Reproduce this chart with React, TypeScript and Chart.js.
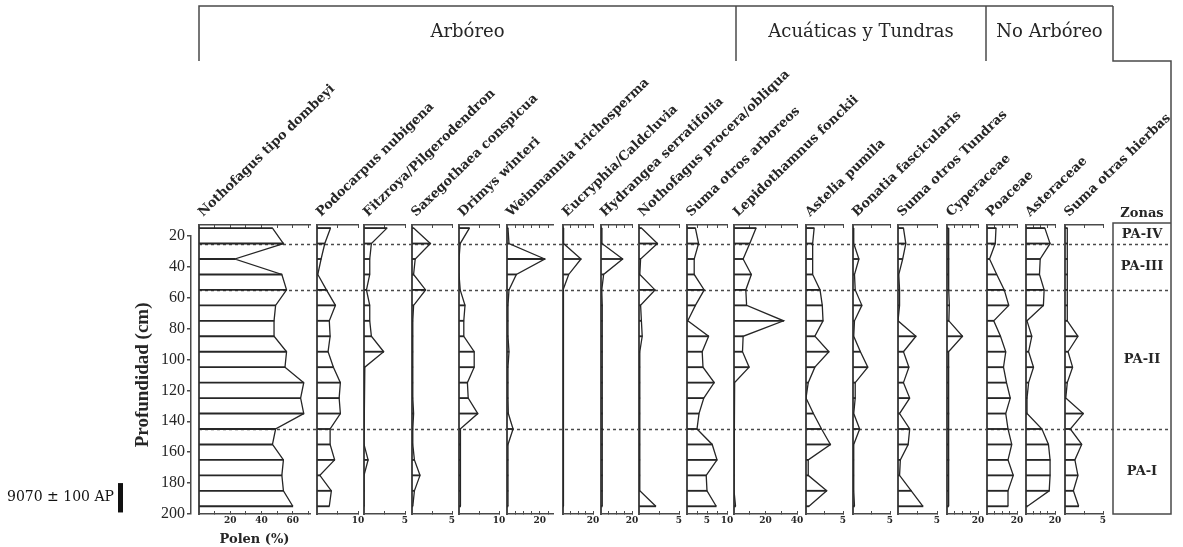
import React, { useEffect, useRef } from 'react';
import { Chart, registerables } from 'chart.js';

Chart.register(...registerables);

// ---------------- DATA ----------------
const SAMPLE_DEPTHS = [15, 25, 35, 45, 55, 65, 75, 85, 95, 105, 115, 125, 135, 145, 155, 165, 175, 185, 195];

const NOTHOFAGUS_DOMBEYI = [47, 54, 23, 53, 56, 49, 48, 48, 56, 55, 67, 65, 67, 49, 47, 54, 53, 54, 60];
const PODOCARPUS_NUBIGENA = [3.3, 1.9, 1.0, 0.2, 2.3, 4.5, 3.0, 3.2, 2.7, 4.0, 5.7, 5.4, 5.7, 3.2, 3.2, 4.3, 0.7, 3.5, 3.0];
const FITZROYA_PILGERODENDRON = [2.8, 0.9, 0.7, 0.7, 0.3, 0.7, 0.7, 0.9, 2.4, 0.1, 0, 0, 0, 0, 0, 0.5, 0, 0, 0];
const SAXEGOTHAEA_CONSPICUA = [0.2, 2.3, 0.4, 0.2, 1.7, 0.2, 0.1, 0.1, 0.1, 0.1, 0.1, 0.1, 0.2, 0.1, 0.1, 0.3, 1.0, 0.3, 0.1];
const DRIMYS_WINTERI = [2.6, 0.3, 0, 0, 0.3, 1.5, 1.2, 1.2, 3.8, 3.8, 2.1, 2.3, 4.7, 0.3, 0.4, 0.3, 0.4, 0.3, 0.4];
const WEINMANNIA_TRICHOSPERMA = [0.6, 1.2, 23, 5.7, 1.2, 0.6, 0.6, 0.6, 1.2, 0.6, 0.6, 0.6, 0.8, 3.7, 0.6, 0.6, 0.6, 0.6, 0.6];
const EUCRYPHIA_CALDCLUVIA = [0.4, 0.4, 12, 3.8, 0, 0.3, 0.3, 0.3, 0.3, 0.3, 0.3, 0.3, 0.3, 0.3, 0.3, 0.3, 0.3, 0.3, 0.3];
const HYDRANGEA_SERRATIFOLIA = [0.5, 0.6, 14, 1.7, 0.5, 0.8, 0.8, 0.8, 0.8, 0.8, 0.8, 0.8, 0.8, 0.8, 0.8, 0.8, 0.8, 0.8, 0.8];
const NOTHOFAGUS_PROCERA_OBLIQUA = [0.3, 2.3, 0.2, 0.1, 2.0, 0.2, 0.3, 0.4, 0.1, 0.1, 0.1, 0.1, 0.1, 0.1, 0.1, 0.1, 0.1, 0.1, 2.1];
const SUMA_OTROS_ARBOREOS = [2.1, 2.9, 1.8, 1.8, 4.3, 2.1, 0.2, 5.4, 3.8, 4.0, 6.8, 4.2, 3.0, 2.5, 6.3, 7.5, 4.8, 5.0, 7.3];
const LEPIDOTHAMNUS_FONCKII = [14, 10, 5.8, 11, 7.5, 8, 31.5, 5.8, 5.4, 9.6, 0.4, 0, 0, 0, 0, 0, 0, 0, 1];
const ASTELIA_PUMILA = [1.1, 0.9, 0.9, 0.9, 1.9, 2.2, 2.3, 1.2, 3.1, 1.2, 0.3, 0, 1.0, 2.1, 3.3, 0.3, 0.3, 2.8, 0.4];
const BONATIA_FASCICULARIS = [0, 0.1, 0.8, 0.2, 0.3, 1.2, 0.2, 0.1, 1.0, 2.0, 0.3, 0.3, 0.1, 0.9, 0.1, 0.1, 0.1, 0.1, 0.2];
const SUMA_OTROS_TUNDRAS = [0.7, 1.0, 0.6, 0.1, 0.2, 0.2, 0, 2.3, 0.7, 1.4, 0.7, 1.5, 0.2, 1.5, 1.3, 0.3, 0.2, 1.7, 3.2];
const CYPERACEAE = [0.8, 1, 1.2, 1, 1.2, 1.5, 1.2, 10, 1, 1.2, 1, 1, 1.2, 1, 1, 1.2, 1, 1, 1];
const POACEAE = [6, 5.5, 1.7, 6.5, 11.5, 14.5, 4.5, 9, 12.5, 11, 13, 15.5, 12.5, 14, 16.5, 14, 17.5, 14, 14];
const ASTERACEAE = [13, 16.6, 9.8, 9.3, 12.5, 12, 0.7, 4, 1.8, 5.2, 1.8, 0.7, 0.7, 11, 15.5, 16.6, 16.6, 16, 1];
const SUMA_OTRAS_HIERBAS = [0.3, 0.3, 0.3, 0.3, 0.3, 0.3, 0.3, 1.7, 0.4, 1, 0.3, 0.1, 2.4, 0.7, 2.2, 1.3, 1.7, 1.1, 1.8];

const TAXA = [
  'Nothofagus tipo dombeyi',
  'Podocarpus nubigena',
  'Fitzroya/Pilgerodendron',
  'Saxegothaea conspicua',
  'Drimys winteri',
  'Weinmannia trichosperma',
  'Eucryphia/Caldcluvia',
  'Hydrangea serratifolia',
  'Nothofagus procera/obliqua',
  'Suma otros arboreos',
  'Lepidothamnus fonckii',
  'Astelia pumila',
  'Bonatia fascicularis',
  'Suma otros Tundras',
  'Cyperaceae',
  'Poaceae',
  'Asteraceae',
  'Suma otras hierbas',
];
const TAXON_VALUES = [
  NOTHOFAGUS_DOMBEYI, PODOCARPUS_NUBIGENA, FITZROYA_PILGERODENDRON, SAXEGOTHAEA_CONSPICUA,
  DRIMYS_WINTERI, WEINMANNIA_TRICHOSPERMA, EUCRYPHIA_CALDCLUVIA, HYDRANGEA_SERRATIFOLIA,
  NOTHOFAGUS_PROCERA_OBLIQUA, SUMA_OTROS_ARBOREOS, LEPIDOTHAMNUS_FONCKII, ASTELIA_PUMILA,
  BONATIA_FASCICULARIS, SUMA_OTROS_TUNDRAS, CYPERACEAE, POACEAE, ASTERACEAE, SUMA_OTRAS_HIERBAS,
];
const AXIS_MAX = [71, 10, 5, 5, 10, 28, 20, 20, 5, 10, 40, 5, 5, 5, 20, 20, 20, 5];
const AXIS_STEP = [10, 5, 2.5, 2.5, 5, 5, 5, 5, 2.5, 2.5, 10, 2.5, 2.5, 2.5, 5, 5, 5, 2.5];
const AXIS_LABELS = [[20, 40, 60], [10], [5], [5], [10], [20], [20], [20], [5], [5, 10], [20, 40], [5], [5], [5], [20], [20], [20], [5]];

const GROUP_NAMES = ['Arbóreo', 'Acuáticas y Tundras', 'No Arbóreo'];
const ZONE_NAMES = ['PA-IV', 'PA-III', 'PA-II', 'PA-I'];
const ZONE_LIMITS = [13, 25, 55, 145, 200];
const DEPTH_TICKS = [20, 40, 60, 80, 100, 120, 140, 160, 180, 200];
const DEPTH_MIN = 13;
const DEPTH_MAX = 200;
const DATE_LABEL = '9070 ± 100 AP';
const DATE_RANGE = [180, 199];

// ---------------- LAYOUT ----------------
const W = 1183;
const H = 547;
const PANEL_LEFT = [199, 317, 364, 412, 459, 507, 563, 601, 639, 687, 734, 806, 853, 898, 947, 987, 1026, 1065];
const PANEL_RIGHT = [310, 358, 405, 452, 499, 553, 593, 632, 679, 727, 797, 843, 890, 937, 978, 1017, 1055, 1103];
const GROUP_EDGES = [199, 736, 986, 1113];
const HEADER_TOP = 6;
const HEADER_BOTTOM = 61;
const ZONE_BOX_LEFT = 1113;
const ZONE_BOX_RIGHT = 1171;
const AREA_TOP = 225;
const AREA_BOTTOM = 514;
const PANEL_CANVAS_TOP = 200;
const PAD = 14;
// the depth axis starts at its first tick
const DEPTH_AXIS_TOP = AREA_TOP + ((DEPTH_TICKS[0] - DEPTH_MIN) * (AREA_BOTTOM - AREA_TOP)) / (DEPTH_MAX - DEPTH_MIN);

const INK = '#262626';
const LINE = '#4a4a4a';

function panelTicks(i: number) {
  const out: { value: number }[] = [];
  for (let v = 0; v <= AXIS_MAX[i] + 1e-6; v += AXIS_STEP[i]) out.push({ value: Math.round(v * 100) / 100 });
  return out;
}

export default function App() {
  const bgRef = useRef<HTMLCanvasElement | null>(null);
  const panelRefs = useRef<(HTMLCanvasElement | null)[]>([]);

  useEffect(() => {
    const charts: Chart[] = [];

    const backgroundPlugin = {
      id: 'pollenFrame',
      afterDraw(chart: any) {
        const ctx = chart.ctx as CanvasRenderingContext2D;
        const ys = chart.scales.y;
        ctx.save();
        // zone boundaries
        ctx.strokeStyle = LINE;
        ctx.lineWidth = 1.5;
        ctx.setLineDash([3, 3]);
        ZONE_LIMITS.slice(1, -1).forEach((d) => {
          const y = Math.round(ys.getPixelForValue(d)) + 0.5;
          ctx.beginPath();
          ctx.moveTo(PANEL_LEFT[0], y);
          ctx.lineTo(ZONE_BOX_RIGHT, y);
          ctx.stroke();
        });
        ctx.setLineDash([]);

        // header boxes
        ctx.strokeStyle = LINE;
        ctx.lineWidth = 1.5;
        ctx.beginPath();
        ctx.moveTo(GROUP_EDGES[0], HEADER_BOTTOM);
        ctx.lineTo(GROUP_EDGES[0], HEADER_TOP);
        ctx.lineTo(GROUP_EDGES[GROUP_EDGES.length - 1], HEADER_TOP);
        ctx.stroke();
        GROUP_EDGES.slice(1, -1).forEach((x) => {
          ctx.beginPath();
          ctx.moveTo(x, HEADER_TOP);
          ctx.lineTo(x, HEADER_BOTTOM);
          ctx.stroke();
        });
        const yTop = ys.getPixelForValue(DEPTH_MIN);
        const yBot = ys.getPixelForValue(DEPTH_MAX);
        ctx.beginPath();
        ctx.moveTo(GROUP_EDGES[GROUP_EDGES.length - 1], HEADER_TOP);
        ctx.lineTo(GROUP_EDGES[GROUP_EDGES.length - 1], HEADER_BOTTOM);
        ctx.lineTo(ZONE_BOX_RIGHT, HEADER_BOTTOM);
        ctx.lineTo(ZONE_BOX_RIGHT, yBot);
        ctx.lineTo(ZONE_BOX_LEFT, yBot);
        ctx.lineTo(ZONE_BOX_LEFT, yTop - 2);
        ctx.lineTo(ZONE_BOX_RIGHT, yTop - 2);
        ctx.stroke();

        ctx.fillStyle = INK;
        ctx.textAlign = 'center';
        ctx.textBaseline = 'middle';
        ctx.font = '18px "DejaVu Serif"';
        GROUP_NAMES.forEach((g, i) => {
          ctx.fillText(g, (GROUP_EDGES[i] + GROUP_EDGES[i + 1]) / 2, 32);
        });

        // taxon labels
        ctx.font = 'bold 13px "DejaVu Serif"';
        ctx.textAlign = 'left';
        ctx.textBaseline = 'alphabetic';
        TAXA.forEach((t, i) => {
          ctx.save();
          ctx.translate(PANEL_LEFT[i] + 4, AREA_TOP - 8);
          ctx.rotate((-44 * Math.PI) / 180);
          ctx.fillText(t, 0, 0);
          ctx.restore();
        });

        // zones column
        const zx = (ZONE_BOX_LEFT + ZONE_BOX_RIGHT) / 2;
        ctx.textAlign = 'center';
        ctx.textBaseline = 'middle';
        ctx.font = 'bold 13px "DejaVu Serif"';
        ctx.fillText('Zonas', zx, yTop - 11);
        ZONE_NAMES.forEach((z, i) => {
          const y = ys.getPixelForValue((ZONE_LIMITS[i] + ZONE_LIMITS[i + 1]) / 2);
          ctx.fillText(z, zx, y);
        });

        // radiocarbon date
        const d0 = ys.getPixelForValue(DATE_RANGE[0]);
        const d1 = ys.getPixelForValue(DATE_RANGE[1]);
        ctx.fillStyle = '#111';
        ctx.fillRect(118, d0, 5, d1 - d0);
        ctx.textAlign = 'right';
        ctx.font = '14px "DejaVu Serif"';
        ctx.fillText(DATE_LABEL, 114, (d0 + d1) / 2);
        ctx.restore();
      },
    };

    if (bgRef.current) {
      charts.push(
        new Chart(bgRef.current, {
          type: 'scatter',
          data: { datasets: [] },
          options: {
            responsive: false,
            animation: false,
            devicePixelRatio: 1,
            events: [],
            layout: { padding: { left: 120, right: W - ZONE_BOX_RIGHT, top: DEPTH_AXIS_TOP, bottom: H - AREA_BOTTOM } },
            plugins: { legend: { display: false }, tooltip: { enabled: false } },
            scales: {
              x: { type: 'linear', display: false, min: 0, max: 1 },
              y: {
                type: 'linear',
                position: 'left',
                min: DEPTH_TICKS[0],
                max: DEPTH_MAX,
                reverse: true,
                afterFit: (s: any) => { s.width = 71; },
                afterBuildTicks: (s: any) => { s.ticks = DEPTH_TICKS.map((v) => ({ value: v })); },
                ticks: { color: INK, font: { family: '"Liberation Serif"', size: 16 }, padding: 2 },
                grid: { drawOnChartArea: false, tickLength: 4, color: LINE, lineWidth: 1.5 },
                border: { display: true, color: LINE, width: 1.5 },
                title: {
                  display: true,
                  text: 'Profundidad (cm)',
                  color: INK,
                  font: { family: '"Liberation Serif"', size: 19, weight: 'bold' },
                  padding: { top: 12, bottom: 0 },
                },
              },
            },
          },
          plugins: [backgroundPlugin],
        } as any)
      );
    }

    TAXA.forEach((_, i) => {
      const canvas = panelRefs.current[i];
      if (!canvas) return;
      const pts = SAMPLE_DEPTHS.map((d, k) => ({ x: TAXON_VALUES[i][k], y: d }));
      const ticksFor = (s: any) => { s.ticks = panelTicks(i); };
      charts.push(
        new Chart(canvas, {
          type: 'bar',
          data: {
            datasets: [
              { type: 'bar', data: pts, backgroundColor: INK, barThickness: 1.2, borderWidth: 0, xAxisID: 'x', yAxisID: 'y' },
              { type: 'line', data: pts, borderColor: INK, borderWidth: 1.3, pointRadius: 0, fill: false, tension: 0, xAxisID: 'x', yAxisID: 'y' },
            ],
          },
          options: {
            indexAxis: 'y',
            responsive: false,
            animation: false,
            devicePixelRatio: 1,
            events: [],
            layout: { padding: { left: PAD, right: PAD, top: AREA_TOP - PANEL_CANVAS_TOP, bottom: 0 } },
            plugins: { legend: { display: false }, tooltip: { enabled: false } },
            scales: {
              x: {
                type: 'linear',
                position: 'bottom',
                min: 0,
                max: AXIS_MAX[i],
                afterBuildTicks: ticksFor,
                afterFit: (s: any) => { s.height = H - AREA_BOTTOM; },
                ticks: {
                  autoSkip: false,
                  maxRotation: 0,
                  minRotation: 0,
                  padding: 4,
                  color: INK,
                  font: { family: '"DejaVu Serif"', size: 9, weight: 'bold' },
                  callback: (v: any) => (AXIS_LABELS[i].includes(Number(v)) ? String(v) : ''),
                },
                grid: { drawOnChartArea: false, tickLength: -3, color: LINE, lineWidth: 1 },
                border: { display: true, color: LINE, width: 1.5 },
                title: i === 0
                  ? { display: true, text: 'Polen (%)', color: INK, font: { family: '"DejaVu Serif"', size: 13, weight: 'bold' }, padding: { top: 3, bottom: 0 } }
                  : { display: false },
              },
              xTop: {
                type: 'linear',
                position: 'top',
                min: 0,
                max: AXIS_MAX[i],
                afterBuildTicks: ticksFor,
                afterFit: (s: any) => { s.height = 0; },
                ticks: { display: false },
                grid: { drawOnChartArea: false, tickLength: -3, color: LINE, lineWidth: 1 },
                border: { display: true, color: LINE, width: 1.5 },
              },
              y: {
                type: 'linear',
                position: 'left',
                min: DEPTH_MIN,
                max: DEPTH_MAX,
                reverse: true,
                offset: false,
                afterFit: (s: any) => { s.width = 0; },
                ticks: { display: false },
                grid: { display: false, offset: false },
                border: { display: true, color: LINE, width: 2 },
              },
            },
          },
        } as any)
      );
    });

    return () => charts.forEach((c) => c.destroy());
  }, []);

  return (
    <div style={{ position: 'fixed', left: 0, top: 0, width: W, height: H, background: '#fff', overflow: 'hidden' }}>
      <canvas ref={bgRef} width={W} height={H} style={{ position: 'absolute', left: 0, top: 0 }} />
      {TAXA.map((t, i) => (
        <canvas
          key={t}
          ref={(el) => { panelRefs.current[i] = el; }}
          width={PANEL_RIGHT[i] - PANEL_LEFT[i] + 2 * PAD}
          height={H - PANEL_CANVAS_TOP}
          style={{ position: 'absolute', left: PANEL_LEFT[i] - PAD, top: PANEL_CANVAS_TOP }}
        />
      ))}
    </div>
  );
}
